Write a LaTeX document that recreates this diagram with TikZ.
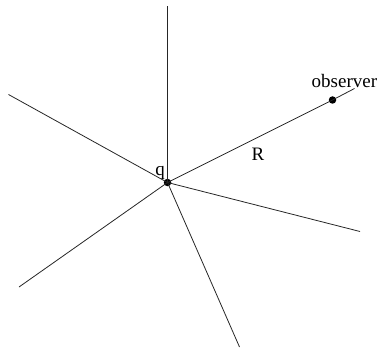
\documentclass[tikz,border=0pt]{standalone}
\usepackage{fontspec}
\setmainfont{Liberation Serif}

\begin{document}
\begin{tikzpicture}[x=1pt, y=-1pt, font=\fontsize{19}{21}\selectfont,
  ray/.style={line width=0.8pt, black!85},
  charge/.style={circle, fill=black, inner sep=0pt, minimum size=7.5pt}]
\useasboundingbox (0,0) rectangle (377,350);

% point charge and observer
\node[charge] (q) at (167.5,182.5) {};
\node[charge] (obs) at (332.5,100) {};

% far ends of the field lines, clockwise from the top
\foreach \n/\x/\y in {up/167.5/6, ur/354.5/88.5, dr/360/231.5, dn/239.5/347, dl/19/287, ul/8.5/94.5}
  \coordinate (\n) at (\x,\y);

% field lines
\foreach \n in {up,dr,dn,dl,ul}
  \draw[ray] (q.center) -- (\n);
\draw[ray] (q.center) -- (obs.center) -- (ur);

% labels
\node[anchor=base, inner sep=0pt] (qlab) at (160,175) {q};
\node[anchor=base, inner sep=0pt] (Rlab) at (258,160) {R};
\node[anchor=base west, inner sep=0pt] (obslab) at (311.5,88) {observer};
\end{tikzpicture}
\end{document}
